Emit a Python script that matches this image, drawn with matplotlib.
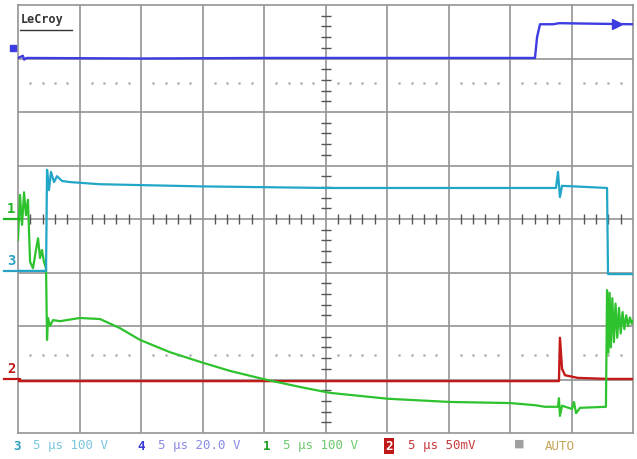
import matplotlib
matplotlib.use('Agg')
import matplotlib.pyplot as plt
import matplotlib.transforms as mtransforms
import numpy as np

# ─── Trace data: time in µs (5 µs/div), level in screen divisions ──────────

# ch4 (blue, 20 V/div)
ch4_t = [0.0, 0.4, 0.5, 0.7, 10.0, 20.0, 30.0, 42.03, 42.2, 42.44, 43.5, 44.0, 50.0]
ch4_y = [3.01, 3.05, 2.98, 3.01, 3.00, 3.01, 3.01, 3.01, 3.40, 3.64, 3.64, 3.66, 3.64]

# ch3 (cyan, 100 V/div)
ch3_t = [0.0, 2.28, 2.36, 2.52, 2.68, 2.93, 3.17, 3.58, 4.23, 6.67, 14.80,
         25.04, 43.74, 43.90, 44.06, 44.23, 47.89, 47.97, 50.0]
ch3_y = [-0.97, -0.97, 0.92, 0.54, 0.88, 0.69, 0.80, 0.71, 0.69, 0.65, 0.61,
         0.58, 0.58, 0.88, 0.41, 0.62, 0.58, -1.03, -1.03]

# ch1 (green, 100 V/div)
ch1_t = [0.0, 0.16, 0.33, 0.49, 0.65, 0.81, 0.98, 1.22, 1.46, 1.63, 1.79,
         1.95, 2.11, 2.28, 2.36, 2.44, 2.60, 2.85, 3.41, 5.04, 6.67, 8.29,
         9.92, 12.36, 14.80, 17.24, 19.92, 22.93, 25.37, 30.08, 35.12, 40.0,
         42.03, 42.85, 43.90, 43.98, 44.06, 44.23, 45.04, 45.20, 45.37, 45.69,
         47.80, 47.89, 48.0, 48.1, 48.2, 48.32, 48.45, 48.58, 48.72, 48.86,
         49.0, 49.15, 49.3, 49.45, 49.6, 49.75, 49.9, 50.0]
ch1_y = [-0.39, 0.45, -0.11, 0.50, 0.07, 0.36, -0.80, -0.92, -0.58, -0.36, -0.73,
         -0.58, -0.80, -0.92, -2.26, -1.85, -2.00, -1.89, -1.91, -1.85, -1.87, -2.04,
         -2.26, -2.49, -2.67, -2.84, -2.99, -3.14, -3.25, -3.36, -3.42, -3.44,
         -3.48, -3.51, -3.51, -3.35, -3.68, -3.49, -3.55, -3.42, -3.63, -3.53,
         -3.51, -1.33, -2.50, -1.38, -2.40, -1.48, -2.30, -1.58, -2.22, -1.66,
         -2.14, -1.74, -2.06, -1.80, -2.00, -1.84, -1.96, -1.90]

# ch2 (red, 50 mV/div)
ch2_t = [0.0, 10.0, 20.0, 30.0, 43.98, 44.06, 44.23, 44.47, 45.5, 48.0, 50.0]
ch2_y = [-3.03, -3.03, -3.03, -3.03, -3.03, -2.22, -2.80, -2.92, -2.97, -2.99, -2.99]

# channel labels at the left edge: (label, ground level, colour)
markers = [('1', 0.0, '#22b422'), ('3', -0.97, '#2aa0c4'), ('2', -2.99, '#c01818')]

# bottom status line: (text, x pixel, colour)
status = [('3', 13, '#2a9fc0'), ('5 µs 100 V', 33, '#79c6de'),
          ('4', 137, '#3a3ad8'), ('5 µs 20.0 V', 158, '#8a8ae6'),
          ('1', 263, '#1e9e1e'), ('5 µs 100 V', 283, '#6cc86c'),
          ('5 µs 50mV', 408, '#c83c3c'), ('AUTO', 545, '#c4a458')]

W, H = 637, 459
fig = plt.figure(figsize=(W / 100, H / 100), dpi=100)
fig.patch.set_facecolor('white')
ax = fig.add_axes([18 / W, (H - 433) / H, 615 / W, 428 / H])
ax.set_xlim(0, 50)
ax.set_ylim(-4, 4)
ax.set_xticks([])
ax.set_yticks([])
grid_c = '#939393'
for s in ax.spines.values():
    s.set_color(grid_c)
    s.set_linewidth(1.2)

# graticule
for gx in range(5, 50, 5):
    ax.axvline(gx, color=grid_c, lw=1.2, zorder=1)
for gy in range(-3, 4):
    ax.axhline(gy, color=grid_c, lw=1.2, zorder=1)

# minor ticks on the centre lines
minor_x = [i * 1.0 for i in range(1, 50) if i % 5]
minor_y = [i * 0.2 for i in range(-19, 20) if i % 5]
ax.plot(minor_x, [0] * len(minor_x), ls='none', marker='|', ms=7,
        mew=1.0, color='#555555', zorder=2)
ax.plot([25] * len(minor_y), minor_y, ls='none', marker='_', ms=7,
        mew=1.0, color='#555555', zorder=2)

# dotted reference lines
for dy in (2.54, -2.54):
    ax.plot(minor_x, [dy] * len(minor_x), ls='none', marker='.', ms=2,
            color='#b8b8b8', zorder=1)

# traces
ax.plot(ch2_t, ch2_y, color='#c41a1a', lw=1.7, zorder=3)
ax.plot(ch1_t, ch1_y, color='#2ec22e', lw=1.6, zorder=4)
ax.plot(ch3_t, ch3_y, color='#22a6c8', lw=1.6, zorder=5)
ax.plot(ch4_t, ch4_y, color='#3c3ce0', lw=1.7, zorder=5)
ax.plot([48.7], [3.64], marker='>', ms=7, color='#3c3ce0', zorder=6)

# LeCroy logo
ax.text(0.004, 0.982, 'LeCroy', transform=ax.transAxes, ha='left', va='top',
        fontsize=8.5, fontweight='bold', color='#333333',
        family='DejaVu Sans Mono')
ax.plot([0.004, 0.088], [0.942, 0.942], transform=ax.transAxes,
        color='#333333', lw=1.0)

# channel markers on the left edge
trans = mtransforms.blended_transform_factory(ax.transAxes, ax.transData)
for lab, lvl, col in markers:
    ax.plot([-0.022, 0.004], [lvl, lvl], transform=trans, color=col,
            lw=1.6, clip_on=False, zorder=6)
    ax.text(-0.018, lvl + 0.05, lab, transform=trans, ha='left', va='bottom',
            fontsize=10, fontweight='bold', color=col, clip_on=False,
            family='DejaVu Sans Mono')
ax.plot([-0.008], [3.2], transform=trans, marker='s', ms=5,
        color='#3c3ce0', clip_on=False, zorder=6)

# status line
for txt, px, col in status:
    fig.text(px / W, 1 - 446 / H, txt, ha='left', va='center', fontsize=9,
             color=col, family='DejaVu Sans Mono',
             fontweight='bold' if len(txt) == 1 else 'normal')
fig.text(385 / W, 1 - 446 / H, '2', ha='left', va='center', fontsize=9,
         color='white', fontweight='bold', family='DejaVu Sans Mono',
         bbox=dict(boxstyle='square,pad=0.1', fc='#c01818', ec='none'))
fig.text(514 / W, 1 - 444 / H, '■', ha='left', va='center', fontsize=8,
         color='#a0a0a0', family='DejaVu Sans')

fig.savefig('out.png', dpi=100)
